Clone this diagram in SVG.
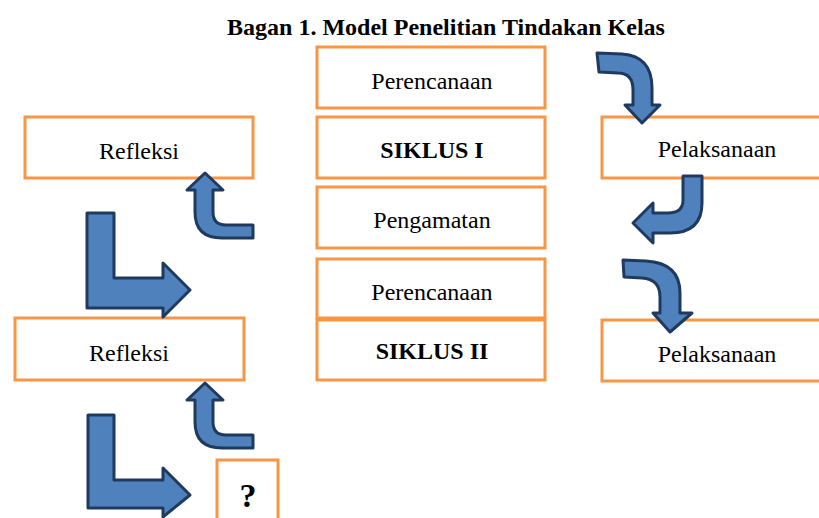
<svg xmlns="http://www.w3.org/2000/svg" width="819" height="518" viewBox="0 0 819 518">
<style>
.box{fill:#fff;stroke:#F79646;stroke-width:3}
.t{font-family:"Liberation Serif","Times New Roman",serif;font-size:24px;fill:#000;text-anchor:middle}
.b{font-weight:bold}
.arr{fill:#4F81BD;stroke:#1F3A5F;stroke-width:3;stroke-linejoin:round}
</style>
<rect width="819" height="518" fill="#fff"/>
<text class="t b" x="446" y="35">Bagan 1. Model Penelitian Tindakan Kelas</text>
<g id="perencanaan1"><rect class="box" x="317" y="47" width="228" height="61"/><text class="t" x="432" y="89">Perencanaan</text></g>
<g id="siklus1"><rect class="box" x="317" y="117" width="228" height="61"/><text class="t b" x="432" y="158">SIKLUS I</text></g>
<g id="pengamatan"><rect class="box" x="317" y="187" width="228" height="61"/><text class="t" x="432" y="228">Pengamatan</text></g>
<g id="perencanaan2"><rect class="box" x="317" y="259" width="228" height="59"/><text class="t" x="432" y="300">Perencanaan</text></g>
<g id="siklus2"><rect class="box" x="317" y="320" width="228" height="60"/><text class="t b" x="432" y="359">SIKLUS II</text></g>
<g id="refleksi1"><rect class="box" x="25" y="117" width="228" height="61"/><text class="t" x="139" y="159">Refleksi</text></g>
<g id="pelaksanaan1"><rect class="box" x="602" y="117" width="230" height="61"/><text class="t" x="717" y="157">Pelaksanaan</text></g>
<g id="refleksi2"><rect class="box" x="15" y="318" width="229" height="62"/><text class="t" x="129" y="361">Refleksi</text></g>
<g id="pelaksanaan2"><rect class="box" x="602" y="320" width="230" height="61"/><text class="t" x="717" y="362">Pelaksanaan</text></g>
<g id="tanya"><rect class="box" x="217" y="460" width="61" height="62"/><text class="t b" x="248" y="507" style="font-size:34px">?</text></g>
<g id="connectors">
<path class="arr" d="M597,53 L622,54 Q652,56 652,88 L652,105 L660,105 L642,123 L625,105 L633,105 L633,90 Q633,73 618,73 L599,72 Z"/>
<path class="arr" d="M683,176 L702,176 L702,203 Q702,233 670,233 L653,233 L653,243 L633,223 L653,203 L653,213 L668,213 Q683,213 683,200 Z"/>
<path class="arr" d="M623,260 L646,261 Q680,263 680,293 L680,313 L692,313 L670,332 L653,313 L660,313 L660,297 Q660,279 642,278 L624,277 Z"/>
<path class="arr" d="M205,173 L223,190 L213,190 L213,212 Q213,225 226,225 L253,225 L253,238 L222,238 Q195,238 195,212 L195,190 L187,190 Z"/>
<path class="arr" d="M205,383 L223,400 L213,400 L213,422 Q213,435 226,435 L253,435 L253,448 L222,448 Q195,448 195,422 L195,400 L187,400 Z"/>
<path class="arr" d="M87,213 L114,213 L114,278 L163,278 L163,263 L190,290 L163,317 L163,308 L87,308 Z"/>
<path class="arr" d="M88,415 L114,415 L114,480 L163,480 L163,468 L190,495 L163,517 L163,508 L88,508 Z"/>
</g>
</svg>
